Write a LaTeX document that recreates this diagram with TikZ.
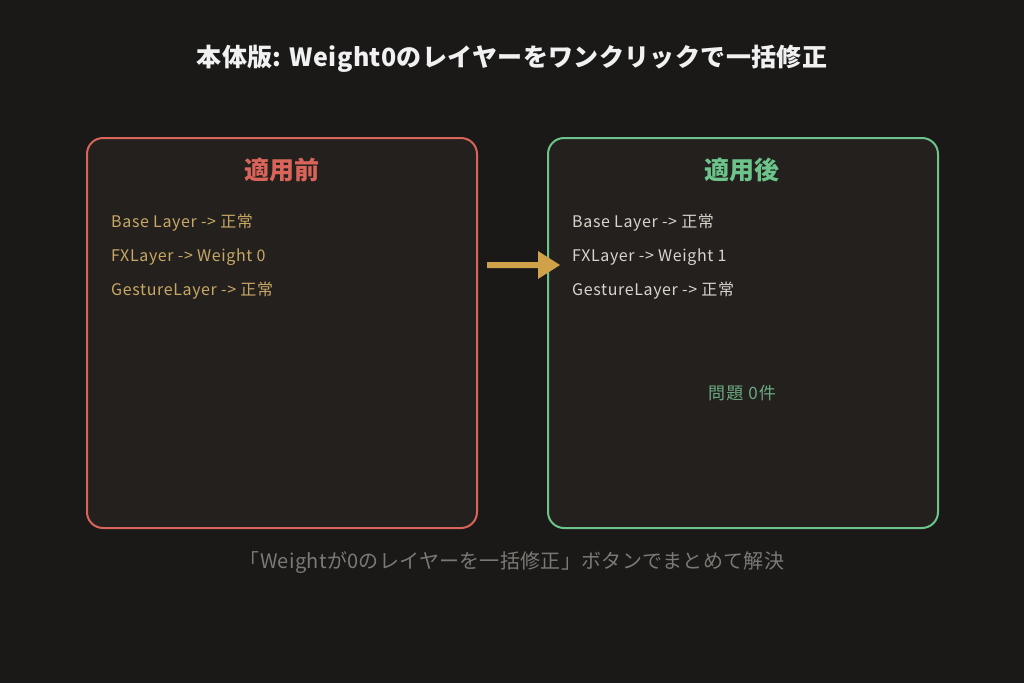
\documentclass[tikz,border=0pt]{standalone}
\usepackage{fontspec}
\setmainfont{Noto Sans CJK JP}
\newfontfamily\spacedA{Noto Sans CJK JP}[LetterSpace=4]
\newfontfamily\spacedB{Noto Sans CJK JP}[LetterSpace=1.5]
\newfontfamily\spacedC{Noto Sans CJK JP}[LetterSpace=7]
\definecolor{bgc}{HTML}{1A1918}
\definecolor{panel}{HTML}{23201E}
\definecolor{redc}{HTML}{D9645A}
\definecolor{greenc}{HTML}{6CC48A}
\definecolor{goldt}{HTML}{C8A865}
\definecolor{golda}{HTML}{CFA148}
\definecolor{lightt}{HTML}{D8D4CC}
\definecolor{greyt}{HTML}{7C7874}
\definecolor{okgreen}{HTML}{6AAA80}
\begin{document}
\begin{tikzpicture}[x=1pt,y=-1pt,
  panelbox/.style={draw=#1,line width=2pt,fill=panel,rounded corners=16pt},
  itemtext/.style={anchor=west,font=\spacedA\fontsize{16}{19}\selectfont,inner sep=0pt},
  headtext/.style={font=\fontsize{25}{29}\selectfont\bfseries,inner sep=0pt}]
\fill[bgc] (0,0) rectangle (1024,683);
\useasboundingbox (0,0) rectangle (1024,683);
\node[font=\spacedB\fontsize{25}{29}\selectfont\bfseries,text=white!94!bgc,inner sep=0pt] (title) at (512,59) {本体版: Weight0のレイヤーをワンクリックで一括修正};
\draw[panelbox=redc] (87,138) rectangle (477,528);
\draw[panelbox=greenc] (548,138) rectangle (938,528);
\node[headtext,text=redc] (bh) at (282,170) {適用前};
\node[headtext,text=greenc] (ah) at (742,170) {適用後};
\node[itemtext,text=goldt] (b1) at (111,223) {Base Layer -> 正常};
\node[itemtext,text=goldt] (b2) at (111,257) {FXLayer -> Weight 0};
\node[itemtext,text=goldt] (b3) at (111,291) {GestureLayer -> 正常};
\node[itemtext,text=lightt] (a1) at (572,223) {Base Layer -> 正常};
\node[itemtext,text=lightt] (a2) at (572,257) {FXLayer -> Weight 1};
\node[itemtext,text=lightt] (a3) at (572,291) {GestureLayer -> 正常};
\node[font=\spacedC\fontsize{17}{20}\selectfont,text=okgreen,inner sep=0pt] (ok) at (742,393) {問題 0件};
\coordinate (as) at (487,265);
\coordinate (ae) at (560,265);
\fill[golda] (487,262) -- (538,262) -- (538,251) -- (560,265) -- (538,279) -- (538,268) -- (487,268) -- cycle;
\node[font=\spacedB\fontsize{20}{24}\selectfont,text=greyt,inner sep=0pt] (note) at (512,563) {「Weightが0のレイヤーを一括修正」ボタンでまとめて解決};
\end{tikzpicture}
\end{document}
